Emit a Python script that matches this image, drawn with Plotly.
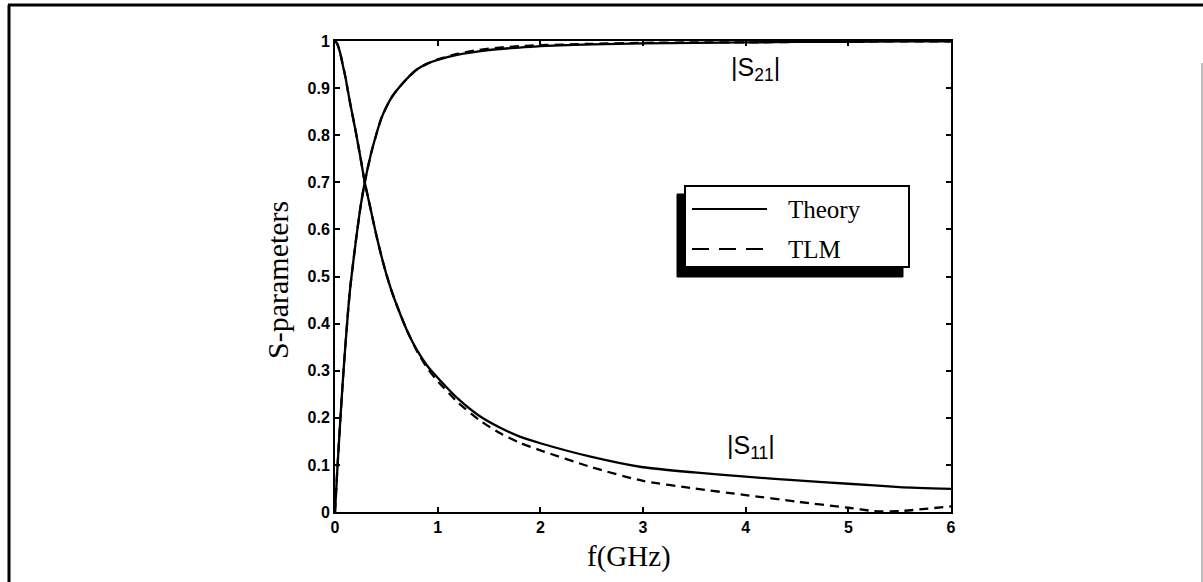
import plotly.graph_objects as go

# ---------------- data ----------------
freq_theory = [0, 0.02, 0.05, 0.08, 0.1, 0.125, 0.15, 0.2, 0.25, 0.29, 0.35, 0.4, 0.45, 0.5, 0.55, 0.6, 0.7,
               0.8, 0.9, 1.0, 1.2, 1.4, 1.6, 1.8, 2.0, 2.5, 3.0, 3.5, 4.0, 4.5, 5.0, 5.5, 6.0]
s11_theory = [1.0, 0.995, 0.975, 0.945, 0.925, 0.895, 0.865, 0.81, 0.75, 0.70, 0.64, 0.59, 0.545, 0.505, 0.47, 0.44, 0.386,
              0.343, 0.31, 0.285, 0.24, 0.205, 0.18, 0.16, 0.146, 0.117, 0.095, 0.084, 0.075, 0.067, 0.060, 0.053, 0.049]
s21_theory = [0.0, 0.08, 0.19, 0.29, 0.35, 0.42, 0.48, 0.57, 0.65, 0.70, 0.76, 0.80, 0.835, 0.86, 0.88, 0.895, 0.92,
              0.94, 0.952, 0.960, 0.971, 0.978, 0.983, 0.986, 0.989, 0.993, 0.995, 0.996, 0.997, 0.998, 0.998, 0.999, 0.999]

freq_tlm = [0, 0.02, 0.05, 0.08, 0.1, 0.125, 0.15, 0.2, 0.25, 0.29, 0.35, 0.4, 0.45, 0.5, 0.55, 0.6, 0.7,
            0.8, 0.9, 1.0, 1.2, 1.4, 1.6, 1.8, 2.0, 2.5, 3.0, 3.5, 4.0, 4.5, 5.0, 5.25, 5.5, 6.0]
s11_tlm = [1.0, 0.995, 0.975, 0.945, 0.925, 0.895, 0.865, 0.81, 0.75, 0.70, 0.64, 0.59, 0.545, 0.505, 0.47, 0.44, 0.386,
           0.341, 0.305, 0.278, 0.232, 0.196, 0.168, 0.147, 0.131, 0.095, 0.066, 0.050, 0.036, 0.022, 0.009, 0.002, 0.002, 0.012]
s21_tlm = [0.0, 0.08, 0.19, 0.29, 0.35, 0.42, 0.48, 0.57, 0.65, 0.70, 0.76, 0.80, 0.835, 0.86, 0.88, 0.895, 0.92,
           0.94, 0.952, 0.961, 0.973, 0.981, 0.986, 0.989, 0.991, 0.994, 0.996, 0.997, 0.997, 0.998, 0.998, 0.999, 0.999, 0.999]

x_tick_vals = [0, 1, 2, 3, 4, 5, 6]
x_tick_text = ["0", "1", "2", "3", "4", "5", "6"]
y_tick_vals = [0, 0.1, 0.2, 0.3, 0.4, 0.5, 0.6, 0.7, 0.8, 0.9, 1.0]
y_tick_text = ["0", "0.1", "0.2", "0.3", "0.4", "0.5", "0.6", "0.7", "0.8", "0.9", "1"]

series_names = ["Theory", "TLM"]
x_title = "f(GHz)"
y_title = "S-parameters"

# ---------------- layout geometry ----------------
W, H = 1203, 582
L, R, T, B = 335, 951, 41, 512


def px(x):
    return (x - L) / (R - L)


def py(y):
    return (B - y) / (B - T)


fig = go.Figure()
line_solid = dict(color="black", width=2.3, shape="spline", smoothing=0.6)
line_dash = dict(color="black", width=2.3, dash="9px,6px", shape="spline", smoothing=0.6)

fig.add_trace(go.Scatter(x=freq_tlm, y=s11_tlm, mode="lines", line=line_dash, name="TLM |S11|"))
fig.add_trace(go.Scatter(x=freq_tlm, y=s21_tlm, mode="lines", line=line_dash, name="TLM |S21|"))
fig.add_trace(go.Scatter(x=freq_theory, y=s11_theory, mode="lines", line=line_solid, name="Theory |S11|"))
fig.add_trace(go.Scatter(x=freq_theory, y=s21_theory, mode="lines", line=line_solid, name="Theory |S21|"))

tickfont = dict(family="Liberation Sans", size=16, color="black", weight="bold")
fig.update_xaxes(range=[0, 6], tickvals=x_tick_vals, ticktext=x_tick_text, ticks="inside", ticklen=5,
                 tickwidth=1.5, tickcolor="black", showline=True, linecolor="black", linewidth=2,
                 mirror="ticks", showgrid=False, zeroline=False, tickfont=tickfont, ticklabelstandoff=0)
fig.update_yaxes(range=[0, 1], tickvals=y_tick_vals, ticktext=y_tick_text, ticks="inside", ticklen=5,
                 tickwidth=1.5, tickcolor="black", showline=True, linecolor="black", linewidth=2,
                 mirror="ticks", showgrid=False, zeroline=False, tickfont=tickfont)

shapes = []
# outer figure frame (top and left edges) and faint right edge
shapes.append(dict(type="line", xref="paper", yref="paper", x0=px(8), x1=px(1203), y0=py(5), y1=py(5),
                   line=dict(color="black", width=3)))
shapes.append(dict(type="line", xref="paper", yref="paper", x0=px(9), x1=px(9), y0=py(5), y1=py(582),
                   line=dict(color="black", width=3)))
shapes.append(dict(type="line", xref="paper", yref="paper", x0=px(1202), x1=px(1202), y0=py(63), y1=py(582),
                   line=dict(color="#aaaaaa", width=1.5)))
# legend box with shadow
shapes.append(dict(type="rect", xref="paper", yref="paper", x0=px(677), x1=px(903), y0=py(194), y1=py(277),
                   fillcolor="black", line=dict(color="black", width=1)))
shapes.append(dict(type="rect", xref="paper", yref="paper", x0=px(685), x1=px(909), y0=py(186), y1=py(267),
                   fillcolor="white", line=dict(color="black", width=2)))
shapes.append(dict(type="line", xref="paper", yref="paper", x0=px(692), x1=px(767), y0=py(209), y1=py(209),
                   line=dict(color="black", width=2)))
shapes.append(dict(type="line", xref="paper", yref="paper", x0=px(692), x1=px(767), y0=py(249), y1=py(249),
                   line=dict(color="black", width=2, dash="17px,10px")))

serif = "Liberation Serif"
annotations = [
    dict(x=px(786), y=py(209), xref="paper", yref="paper", text=series_names[0], showarrow=False,
         xanchor="left", yanchor="middle", font=dict(family=serif, size=25, color="black")),
    dict(x=px(786), y=py(249), xref="paper", yref="paper", text=series_names[1], showarrow=False,
         xanchor="left", yanchor="middle", font=dict(family=serif, size=25, color="black")),
    dict(x=px(629), y=py(556), xref="paper", yref="paper", text=x_title, showarrow=False,
         xanchor="center", yanchor="middle", font=dict(family=serif, size=29, color="black")),
    dict(x=px(277), y=py(280), xref="paper", yref="paper", text=y_title, showarrow=False, textangle=-90,
         xanchor="center", yanchor="middle", font=dict(family=serif, size=30, color="black")),
    dict(x=4.1, y=0.94, xref="x", yref="y", text="|S<sub>21</sub>|", showarrow=False,
         xanchor="center", yanchor="middle", font=dict(family="Liberation Sans", size=25, color="black")),
    dict(x=4.05, y=0.138, xref="x", yref="y", text="|S<sub>11</sub>|", showarrow=False,
         xanchor="center", yanchor="middle", font=dict(family="Liberation Sans", size=25, color="black")),
]

fig.update_layout(width=W, height=H, margin=dict(l=L, r=W - R, t=T, b=H - B, autoexpand=False),
                  paper_bgcolor="white", plot_bgcolor="white", showlegend=False,
                  shapes=shapes, annotations=annotations)

fig.write_html("out.html")
